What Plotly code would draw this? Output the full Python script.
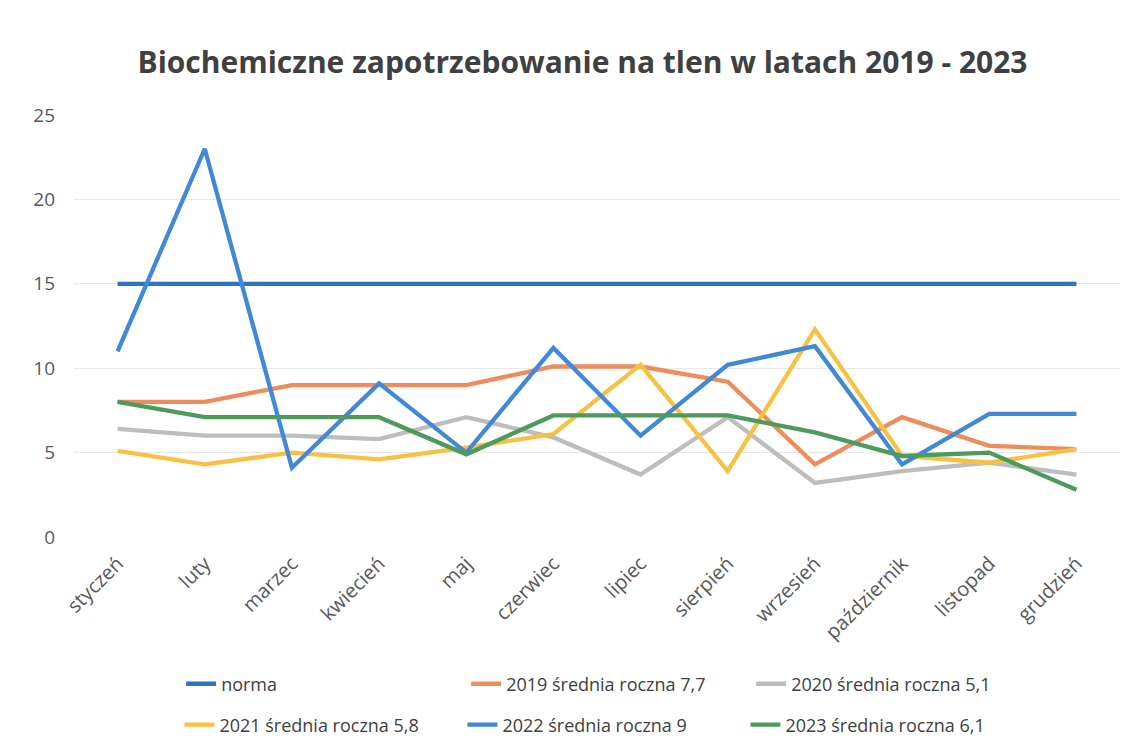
import plotly.graph_objects as go

months = ["styczeń", "luty", "marzec", "kwiecień", "maj", "czerwiec", "lipiec",
          "sierpień", "wrzesień", "październik", "listopad", "grudzień"]

norma = [15, 15, 15, 15, 15, 15, 15, 15, 15, 15, 15, 15]
y2019 = [8.0, 8.0, 9.0, 9.0, 9.0, 10.1, 10.1, 9.2, 4.3, 7.1, 5.4, 5.2]
y2020 = [6.4, 6.0, 6.0, 5.8, 7.1, 5.9, 3.7, 7.1, 3.2, 3.9, 4.4, 3.7]
y2021 = [5.1, 4.3, 5.0, 4.6, 5.3, 6.1, 10.2, 3.9, 12.3, 4.8, 4.4, 5.2]
y2022 = [11.0, 23.0, 4.1, 9.1, 5.0, 11.2, 6.0, 10.2, 11.3, 4.3, 7.3, 7.3]
y2023 = [8.0, 7.1, 7.1, 7.1, 4.9, 7.2, 7.2, 7.2, 6.2, 4.8, 5.0, 2.8]

names = ["norma", "2019 średnia roczna 7,7", "2020 średnia roczna 5,1",
         "2021 średnia roczna 5,8", "2022 średnia roczna 9", "2023 średnia roczna 6,1"]
series = [norma, y2019, y2020, y2021, y2022, y2023]
colors = ["#2E72C4", "#EE8C5C", "#BDBDBD", "#F7C244", "#4189D8", "#4C9A5C"]
legends = ["legend", "legend", "legend", "legend2", "legend2", "legend2"]

fig = go.Figure()
for n, s, c, lg in zip(names, series, colors, legends):
    fig.add_trace(go.Scatter(x=months, y=s, mode="lines", name=n,
                             line=dict(color=c, width=4.3), legend=lg))

fnt = "Open Sans, sans-serif"
fig.update_layout(
    width=1139, height=750,
    paper_bgcolor="white", plot_bgcolor="white",
    margin=dict(l=66, r=27, t=107, b=221),
    title=dict(text="<b>Biochemiczne zapotrzebowanie na tlen w latach 2019 - 2023</b>",
               x=0.5044, xanchor="center", y=0.928, yanchor="middle",
               font=dict(family=fnt, size=30, color="#404040")),
    xaxis=dict(type="category", range=[-0.5, 11.5], showgrid=False, showline=False,
               tickangle=-45, tickfont=dict(family=fnt, size=20, color="#595959"),
               ticks="", automargin=False, ticklabelstandoff=10),
    yaxis=dict(range=[0, 25], dtick=5, showgrid=True, gridcolor="#E8E8E8", gridwidth=1,
               zeroline=False, showline=False, ticks="", ticklen=0, automargin=False,
               ticklabelstandoff=18,
               tickfont=dict(family=fnt, size=19, color="#595959")),
    legend=dict(orientation="h", xref="container", yref="container",
                x=0.152, xanchor="left", y=0.0986, yanchor="middle",
                entrywidth=240, font=dict(family=fnt, size=18, color="#404040"),
                bgcolor="rgba(0,0,0,0)"),
    legend2=dict(orientation="h", xref="container", yref="container",
                 x=0.1505, xanchor="left", y=0.044, yanchor="middle",
                 entrywidth=238, font=dict(family=fnt, size=18, color="#404040"),
                 bgcolor="rgba(0,0,0,0)"),
)

fig.write_html("out.html")
